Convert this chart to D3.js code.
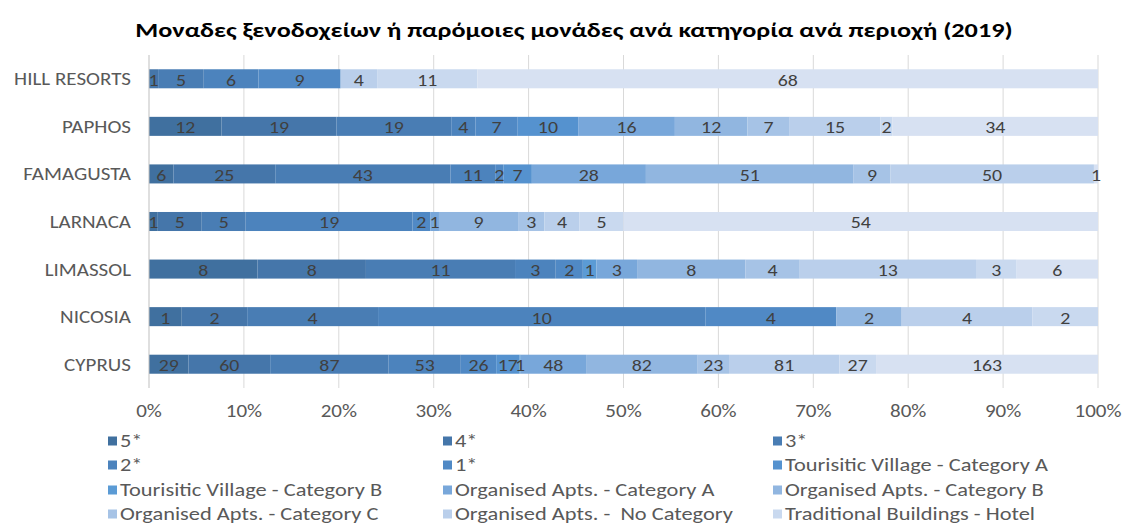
<!DOCTYPE html>
<html>
<head>
<meta charset="utf-8">
<script src="https://cdn.jsdelivr.net/npm/d3@7"></script>
<style>
  html, body { margin: 0; padding: 0; background: #ffffff; }
  svg { display: block; }
  text { font-family: Carlito, "Liberation Sans Narrow", "Open Sans", sans-serif; white-space: pre; }
</style>
</head>
<body>
<svg id="chart" width="1125" height="526"></svg>
<script>
// ---- Data ----
const title = "Μοναδες ξενοδοχείων ή παρόμοιες μονάδες ανά κατηγορία ανά περιοχή (2019)";
const categories = ["HILL RESORTS", "PAPHOS", "FAMAGUSTA", "LARNACA", "LIMASSOL", "NICOSIA", "CYPRUS"];
const seriesNames = [
  "5*", "4*", "3*", "2*", "1*",
  "Tourisitic Village - Category A", "Tourisitic Village - Category B",
  "Organised Apts. - Category A", "Organised Apts. - Category B", "Organised Apts. - Category C",
  "Organised Apts. -  No Category", "Traditional Buildings - Hotel", "Traditional Buildings - Apartments"
];
// values per series, in category order above
const hotel5 = [0, 12, 6, 1, 8, 1, 29];
const hotel4 = [1, 19, 25, 5, 8, 2, 60];
const hotel3 = [5, 19, 43, 5, 11, 4, 87];
const hotel2 = [6, 4, 11, 19, 3, 10, 53];
const hotel1 = [9, 7, 2, 2, 2, 4, 26];
const villageA = [0, 10, 7, 0, 0, 0, 17];
const villageB = [0, 0, 0, 0, 1, 0, 1];
const aptsA = [0, 16, 28, 1, 3, 0, 48];
const aptsB = [0, 12, 51, 9, 8, 2, 82];
const aptsC = [0, 7, 9, 3, 4, 0, 23];
const aptsNoCat = [4, 15, 50, 4, 13, 4, 81];
const tradHotel = [11, 2, 0, 5, 3, 2, 27];
const tradApts = [68, 34, 1, 54, 6, 0, 163];
const tickLabels = ["0%", "10%", "20%", "30%", "40%", "50%", "60%", "70%", "80%", "90%", "100%"];
const tickValues = [0, 0.1, 0.2, 0.3, 0.4, 0.5, 0.6, 0.7, 0.8, 0.9, 1];

const seriesValues = [hotel5, hotel4, hotel3, hotel2, hotel1, villageA, villageB, aptsA, aptsB, aptsC, aptsNoCat, tradHotel, tradApts];
const colors = ["#40709f", "#4576aa", "#497db4", "#4c83bd", "#5089c5", "#5592cf", "#5b9bd5",
                "#78a7da", "#91b6e0", "#a6c3e6", "#bacfeb", "#c9d9ef", "#d7e1f2"];

// ---- Layout ----
const W = 1125, H = 526;
const plot = { left: 149, right: 1098, top: 55, bottom: 388 };
const svg = d3.select("#chart");

const x = d3.scaleLinear().domain([0, 1]).range([plot.left, plot.right]);
const y = d3.scaleBand().domain(categories).range([plot.top, plot.bottom]).paddingInner(0.6).paddingOuter(0.3);

function widthOf(str, size, weight) {
  const p = svg.append("text").attr("font-size", size).attr("font-weight", weight || "normal").text(str);
  const w = p.node().getComputedTextLength();
  p.remove();
  return w;
}

const baseSize = 18;
const kCat = 117 / widthOf("HILL RESORTS", baseSize);
const kLeg = 263 / widthOf("Tourisitic Village - Category A", baseSize);
const titleSize = 21;
const kTitle = 878 / widthOf(title, titleSize, "bold");

// place text at (px,py) with a horizontal stretch k (the reference is rendered slightly wide)
function placed(sel, px, py, k) {
  return sel.attr("x", 0).attr("y", 0)
    .attr("transform", (d, i) => `translate(${px(d, i)},${py(d, i)}) scale(${k},1)`);
}

// Build rows of normalized stacked data
const rows = categories.map((c, i) => {
  const obj = { cat: c };
  seriesNames.forEach((s, j) => obj[s] = seriesValues[j][i]);
  return obj;
});
const stack = d3.stack().keys(seriesNames).offset(d3.stackOffsetExpand);
const stacked = stack(rows);

// ---- Gridlines ----
svg.append("g")
  .selectAll("line")
  .data(tickValues.slice(1))
  .join("line")
  .attr("x1", d => x(d)).attr("x2", d => x(d))
  .attr("y1", plot.top).attr("y2", plot.bottom)
  .attr("stroke", "#d9d9d9").attr("stroke-width", 1);

// ---- Bars ----
const layers = svg.append("g").selectAll("g")
  .data(stacked)
  .join("g")
  .attr("fill", (d, i) => colors[i]);

layers.selectAll("rect")
  .data(d => d.map((p, i) => ({ p, cat: categories[i] })))
  .join("rect")
  .attr("x", d => x(d.p[0]))
  .attr("width", d => Math.max(0, x(d.p[1]) - x(d.p[0])))
  .attr("y", d => y(d.cat))
  .attr("height", y.bandwidth());

// ---- Y axis line ----
svg.append("line")
  .attr("x1", plot.left).attr("x2", plot.left)
  .attr("y1", plot.top).attr("y2", plot.bottom)
  .attr("stroke", "#bfbfbf").attr("stroke-width", 1);

// ---- Data labels ----
const labelData = [];
stacked.forEach((layer, j) => {
  layer.forEach((p, i) => {
    const v = seriesValues[j][i];
    if (v) labelData.push({ v, p, cat: categories[i] });
  });
});
placed(
  svg.append("g").selectAll("text").data(labelData).join("text")
    .attr("text-anchor", "middle")
    .attr("dominant-baseline", "central")
    .attr("font-size", 17)
    .attr("fill", "#404040")
    .text(d => d.v),
  d => (x(d.p[0]) + x(d.p[1])) / 2,
  d => y(d.cat) + y.bandwidth() / 2 + 1,
  kCat
);

// ---- Category labels ----
placed(
  svg.append("g").selectAll("text").data(categories).join("text")
    .attr("text-anchor", "end")
    .attr("dominant-baseline", "central")
    .attr("font-size", baseSize)
    .attr("fill", "#595959")
    .text(d => d),
  () => 131,
  d => y(d) + y.bandwidth() / 2,
  kCat
);

// ---- X tick labels ----
placed(
  svg.append("g").selectAll("text").data(tickValues).join("text")
    .attr("text-anchor", "middle")
    .attr("dominant-baseline", "central")
    .attr("font-size", baseSize)
    .attr("fill", "#595959")
    .text((d, i) => tickLabels[i]),
  d => x(d),
  () => 411,
  kCat
);

// ---- Title ----
placed(
  svg.append("g").selectAll("text").data([title]).join("text")
    .attr("text-anchor", "middle")
    .attr("font-weight", "bold")
    .attr("font-size", titleSize)
    .attr("fill", "#000000")
    .text(d => d),
  () => 574,
  () => 37,
  kTitle
);

// ---- Legend ----
const legendCols = [108, 443, 773];
const legendRowY = [441, 465, 490, 514, 538];
const legItems = seriesNames.map((s, i) => ({ s, i, col: i % 3, row: Math.floor(i / 3) }))
  .filter(d => legendRowY[d.row] + 6 <= H);
const leg = svg.append("g").selectAll("g").data(legItems).join("g")
  .attr("transform", d => `translate(${legendCols[d.col]},${legendRowY[d.row]})`);
leg.append("rect").attr("x", 0).attr("y", -4.5).attr("width", 9).attr("height", 9)
  .attr("fill", d => colors[d.i]);
placed(
  leg.append("text")
    .attr("dominant-baseline", "central")
    .attr("font-size", baseSize)
    .attr("fill", "#595959")
    .text(d => d.s),
  () => 12,
  () => 0,
  kLeg
);
</script>
</body>
</html>
